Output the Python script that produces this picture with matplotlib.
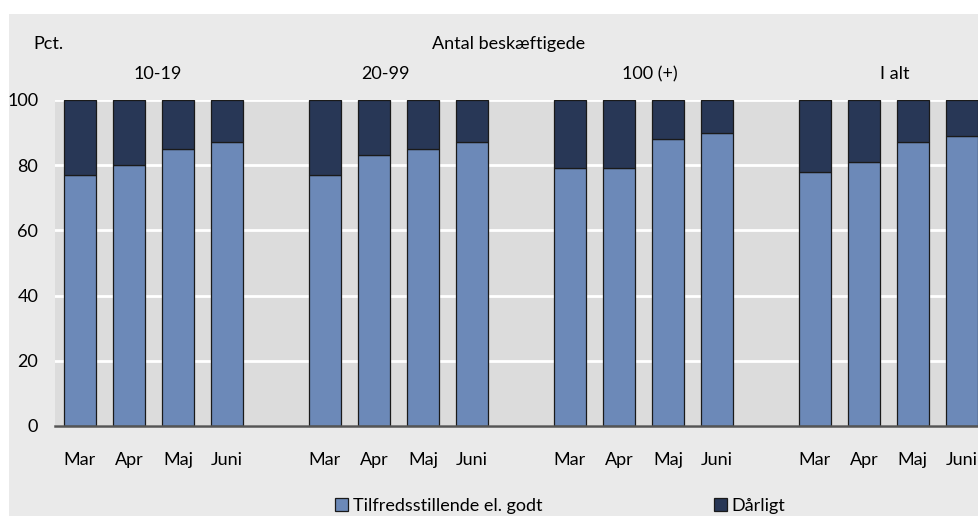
import matplotlib
matplotlib.use("Agg")
import matplotlib.pyplot as plt
import numpy as np
from matplotlib.patches import Rectangle, Patch

plt.rcParams['font.family'] = ['Lato', 'DejaVu Sans']

groups = ["10-19", "20-99", "100 (+)", "I alt"]
months = ["Mar", "Apr", "Maj", "Juni"]
# share rated "Tilfredsstillende el. godt" per group and month, pct.
good = [
    [77, 80, 85, 87],
    [77, 83, 85, 87],
    [79, 79, 88, 90],
    [78, 81, 87, 89],
]
series_names = ["Tilfredsstillende el. godt", "Dårligt"]

light = "#6c89b8"
dark = "#283756"
fig_bg = "#eaeaea"
ax_bg = "#dcdcdc"
fs = 13

fig = plt.figure(figsize=(9.79, 5.16), dpi=100, facecolor="white")
fig.patches.append(Rectangle((9 / 979, 0), 1, (516 - 14) / 516, transform=fig.transFigure,
                             facecolor=fig_bg, edgecolor="none", zorder=-10))

ax = fig.add_axes([55 / 979, 1 - 426 / 516, 1 - 55 / 979, (426 - 100) / 516])
ax.set_facecolor(ax_bg)

positions = []
labels = []
good_vals = []
for gi, g in enumerate(groups):
    for mi, m in enumerate(months):
        positions.append(gi * 5 + mi)
        labels.append(m)
        good_vals.append(good[gi][mi])
positions = np.array(positions)
good_vals = np.array(good_vals)
bad_vals = 100 - good_vals

w = 0.64
ax.bar(positions, good_vals, width=w, color=light, edgecolor="#1a1a1a", linewidth=0.9, zorder=3)
ax.bar(positions, bad_vals, width=w, bottom=good_vals, color=dark, edgecolor="#1a1a1a",
       linewidth=0.9, zorder=3)

ax.set_xlim(-0.51, 18.35)
ax.set_ylim(0, 100)
ax.set_yticks([0, 20, 40, 60, 80, 100])
ax.yaxis.grid(True, color="white", linewidth=2)
ax.set_axisbelow(True)
ax.set_xticks(positions)
ax.set_xticklabels(labels)
ax.tick_params(axis="both", length=0, labelsize=fs, colors="black")
ax.tick_params(axis="x", pad=19)
ax.tick_params(axis="y", pad=12)
for s in ["top", "right", "left"]:
    ax.spines[s].set_visible(False)
ax.spines["bottom"].set_color("#555555")
ax.spines["bottom"].set_linewidth(1.8)
ax.spines["bottom"].set_zorder(4)

label_x = [1.59, 6.24, 11.63, 16.63]
for x, g in zip(label_x, groups):
    ax.text(x, 108, g, ha="center", va="center", fontsize=fs, clip_on=False)

fig.text(33 / 979, 1 - 44 / 516, "Pct.", ha="left", va="center", fontsize=fs)
fig.text(509 / 979, 1 - 44 / 516, "Antal beskæftigede", ha="center", va="center", fontsize=fs)

handles = [Patch(facecolor=light, edgecolor="#1a1a1a", linewidth=0.9),
           Patch(facecolor=dark, edgecolor="#1a1a1a", linewidth=0.9)]
fig.legend(handles, series_names, loc="center", bbox_to_anchor=(560 / 979, 1 - 506 / 516),
           ncol=2, frameon=False, fontsize=fs, handlelength=0.75, handleheight=0.75,
           handletextpad=0.25, columnspacing=9.5, borderaxespad=0)

fig.savefig("out.png", dpi=100, facecolor=fig.get_facecolor())
